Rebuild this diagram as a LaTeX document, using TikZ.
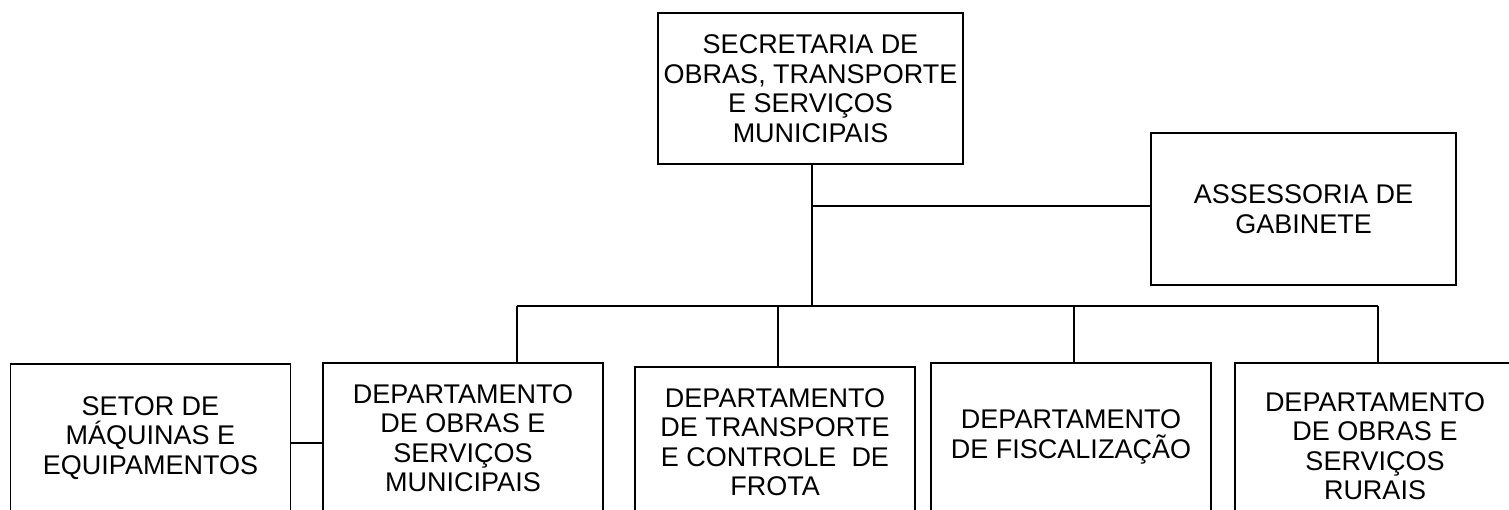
\documentclass[tikz,border=0pt]{standalone}
\usepackage{fontspec}
\setmainfont{Liberation Sans}
\usetikzlibrary{positioning}
\begin{document}
\begin{tikzpicture}[x=1pt,y=-1pt,
    unit/.style={draw,rectangle,line width=1.9pt,minimum width=280pt,minimum height=150pt,
        inner sep=0pt,align=center,font=\fontsize{27}{29.5}\selectfont},
    link/.style={line width=1.4pt}]
    \useasboundingbox (0,0) rectangle (1509,509);
    % top and staff
    \node[unit,minimum width=305pt,minimum height=151pt] (sec) at (810.5,88.5) {SECRETARIA DE\\OBRAS, TRANSPORTE\\E SERVIÇOS\\MUNICIPAIS};
    \node[unit,minimum width=305pt,minimum height=152pt] (ass) at (1303.5,209) {ASSESSORIA DE\\GABINETE};
    % departments
    \node[unit,minimum height=148pt] (maq) at (150.5,438) {SETOR DE\\MÁQUINAS E\\EQUIPAMENTOS};
    \node[unit] (dos) at (463,438) {DEPARTAMENTO\\DE OBRAS E\\SERVIÇOS\\MUNICIPAIS};
    \node[unit] (dtc) at (775,442) {DEPARTAMENTO\\DE TRANSPORTE\\E CONTROLE~ DE\\FROTA};
    \node[unit,minimum height=148pt] (dfi) at (1071,437) {DEPARTAMENTO\\DE FISCALIZAÇÃO};
    \node[unit,minimum height=166pt] (dor) at (1375,446) {DEPARTAMENTO\\DE OBRAS E\\SERVIÇOS\\RURAIS};
    \coordinate (ag) at (812,206);
    \coordinate (bus) at (812,306);
    \coordinate (d1) at (517,306);
    \coordinate (d2) at (778,306);
    \coordinate (d3) at (1074,306);
    \coordinate (d4) at (1378,306);
    \draw[link] (bus |- sec.south) -- (bus);
    \draw[link] (ag) -- (ag -| ass.west);
    \draw[link] (d1) -- (d4);
    \draw[link] (d1) -- (d1 |- dos.north);
    \draw[link] (d2) -- (d2 |- dtc.north);
    \draw[link] (d3) -- (d3 |- dfi.north);
    \draw[link] (d4) -- (d4 |- dor.north);
    \draw[link] ([yshift=-5pt]maq.east) -- ([yshift=-5pt]maq.east -| dos.west);
\end{tikzpicture}
\end{document}
